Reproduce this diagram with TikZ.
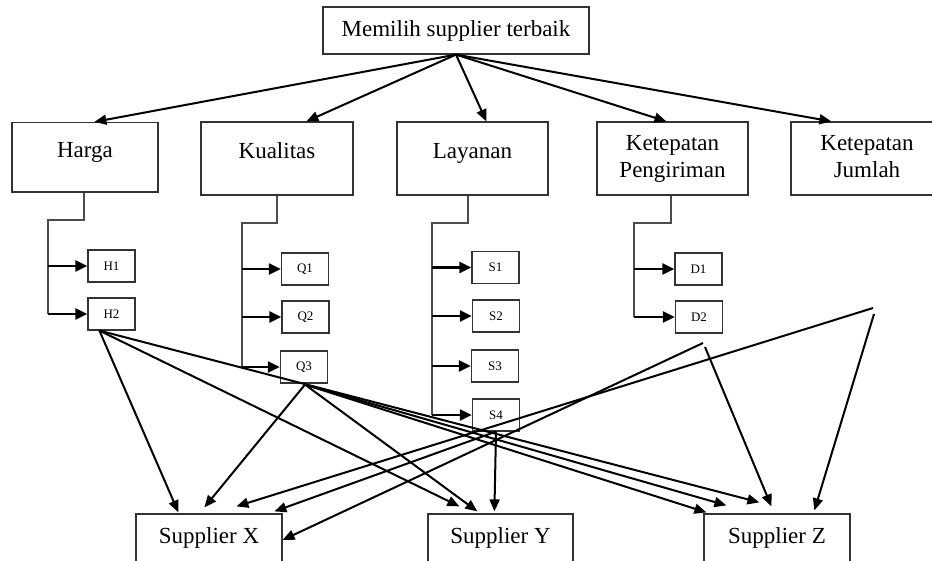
\documentclass[tikz,border=0pt]{standalone}
\usepackage{fontspec}
\setmainfont{Liberation Serif}
\usetikzlibrary{arrows.meta,calc}
\begin{document}
\begin{tikzpicture}[x=1pt,y=-1pt,
  box/.style={draw=black!80, line width=1.2pt, inner sep=0pt, fill=none},
  bigtxt/.style={inner sep=0pt, anchor=base, font=\fontsize{23}{27}\selectfont},
  smalltxt/.style={inner sep=0pt, font=\fontsize{13}{15}\selectfont},
  sbox/.style={box, minimum width=47pt, minimum height=32pt, smalltxt},
  tip/.style={-{Triangle[length=12pt,width=10pt]}},
  mainarrow/.style={tip, line width=2pt, black},
  branch/.style={-{Triangle[length=12pt,width=11pt]}, line width=2.3pt, black},
  trunk/.style={line width=1.3pt, black!70},
  link/.style={tip, line width=2pt, black}]
\clip (0,0) rectangle (932,560);
\useasboundingbox (0,0) rectangle (932,560);
\fill[white] (0,0) rectangle (932,560);

% top box
\node[box, minimum width=266pt, minimum height=47pt] (title) at (456,30.5) {};
\node[bigtxt] (titleT) at (456,36) {Memilih supplier terbaik};

% criteria boxes
\node[box, minimum width=146pt, minimum height=69.5pt] (harga) at (85,157.25) {};
\node[bigtxt] (hargaT) at (85,157) {Harga};
\node[box, minimum width=152pt, minimum height=73pt] (kual) at (277,158.5) {};
\node[bigtxt] (kualT) at (277,158) {Kualitas};
\node[box, minimum width=151pt, minimum height=73pt] (lay) at (472.5,158.5) {};
\node[bigtxt] (layT) at (472.5,158) {Layanan};
\node[box, minimum width=151pt, minimum height=73pt] (kp) at (672.5,158.5) {};
\node[bigtxt] (kpA) at (672.5,150) {Ketepatan};
\node[bigtxt] (kpB) at (672.5,177.5) {Pengiriman};
\node[box, minimum width=152pt, minimum height=73pt] (kj) at (867,158.5) {};
\node[bigtxt] (kjA) at (867,150) {Ketepatan};
\node[bigtxt] (kjB) at (867,177.5) {Jumlah};

% main arrows
\draw[mainarrow] (title.south) -- ($(harga.north west)+(83,0)$);
\draw[mainarrow] (title.south) -- ($(kual.north west)+(106,0)$);
\draw[mainarrow] (title.south) -- ($(lay.north west)+(90,0)$);
\draw[mainarrow] (title.south) -- ($(kp.north west)+(70,0)$);
\draw[mainarrow] (title.south) -- ($(kj.north west)+(41,0)$);

% sub-criteria boxes
\node[sbox] (h1) at (111.5,266) {H1};
\node[sbox] (h2) at (111.5,314) {H2};
\node[sbox] (q1) at (305,269) {Q1};
\node[sbox] (q2) at (305.5,317) {Q2};
\node[sbox] (q3) at (304,367) {Q3};
\node[sbox] (s1) at (495.5,267.5) {S1};
\node[sbox] (s2) at (496,316) {S2};
\node[sbox] (s3) at (495,366) {S3};
\node[sbox] (s4) at (496,415) {S4};
\node[sbox] (d1) at (698.5,269) {D1};
\node[sbox] (d2) at (699,317) {D2};

% trunk coordinates
\coordinate (htr) at (48,220);
\coordinate (ktr) at (242,223);
\coordinate (ltr) at (432,223);
\coordinate (dtr) at (634,223);

\draw[trunk] ($(harga.south)+(-1,0)$) |- (htr) -- (htr |- h2.west);
\draw[trunk] (kual.south) |- (ktr) -- (ktr |- q3.west);
\draw[trunk] ($(lay.south)+(-4.5,0)$) |- (ltr) -- (ltr |- s4.west);
\draw[trunk] ($(kp.south)+(-1.5,0)$) |- (dtr) -- (dtr |- d2.west);

\draw[branch] (htr |- h1.west) -- (h1.west);
\draw[branch] (htr |- h2.west) -- (h2.west);
\draw[branch] (ktr |- q1.west) -- (q1.west);
\draw[branch] (ktr |- q2.west) -- (q2.west);
\draw[branch] (ktr |- q3.west) -- (q3.west);
\draw[branch] (ltr |- s1.west) -- (s1.west);
\draw[branch] (ltr |- s2.west) -- (s2.west);
\draw[branch] (ltr |- s3.west) -- (s3.west);
\draw[branch] (ltr |- s4.west) -- (s4.west);
\draw[branch] (dtr |- d1.west) -- (d1.west);
\draw[branch] (dtr |- d2.west) -- (d2.west);

% supplier boxes
\node[box, minimum width=146pt, minimum height=52pt] (sx) at (209,540) {};
\node[bigtxt] (sxT) at (209,543) {Supplier X};
\node[box, minimum width=145pt, minimum height=52pt] (sy) at (500.5,540) {};
\node[bigtxt] (syT) at (500.5,543) {Supplier Y};
\node[box, minimum width=146pt, minimum height=52pt] (sz) at (777,540) {};
\node[bigtxt] (szT) at (777,543) {Supplier Z};

% free points
\coordinate (p1) at (703,343);
\coordinate (p1b) at (705,347);
\coordinate (p2) at (873,308);
\coordinate (p2b) at (874,314);
\coordinate (h2o) at ($(h2.south west)+(12,0)$);
\coordinate (q3o) at ($(q3.south)+(1,1)$);

% links to suppliers
\draw[link] (h2o) -- ($(sx.north west)+(43,-1)$);
\draw[link] (h2o) -- ($(sy.north west)+(32,-7)$);
\draw[link] (h2o) -- ($(sz.north west)+(56,-11)$);
\draw[link] (q3o) -- ($(sx.north west)+(69,-6)$);
\draw[link] (q3o) -- ($(sy.north west)+(50,-2)$);
\draw[link] (q3o) -- ($(sz.north west)+(23,-8)$);
\draw[link] (q3o) -- ($(sz.north west)+(3,-1)$);
\draw[link] (s4.south) -- ($(sy.north west)+(67,-2)$);
\draw[link] (s4.south) -- ($(sx.north west)+(139,-2)$);
\draw[link] (p1) -- (sx.east);
\draw[link] (p1b) -- ($(sz.north west)+(68,-7)$);
\draw[link] (p2) -- ($(sx.north west)+(101,-7)$);
\draw[link] (p2b) -- ($(sz.north west)+(111,-3)$);
\end{tikzpicture}
\end{document}
